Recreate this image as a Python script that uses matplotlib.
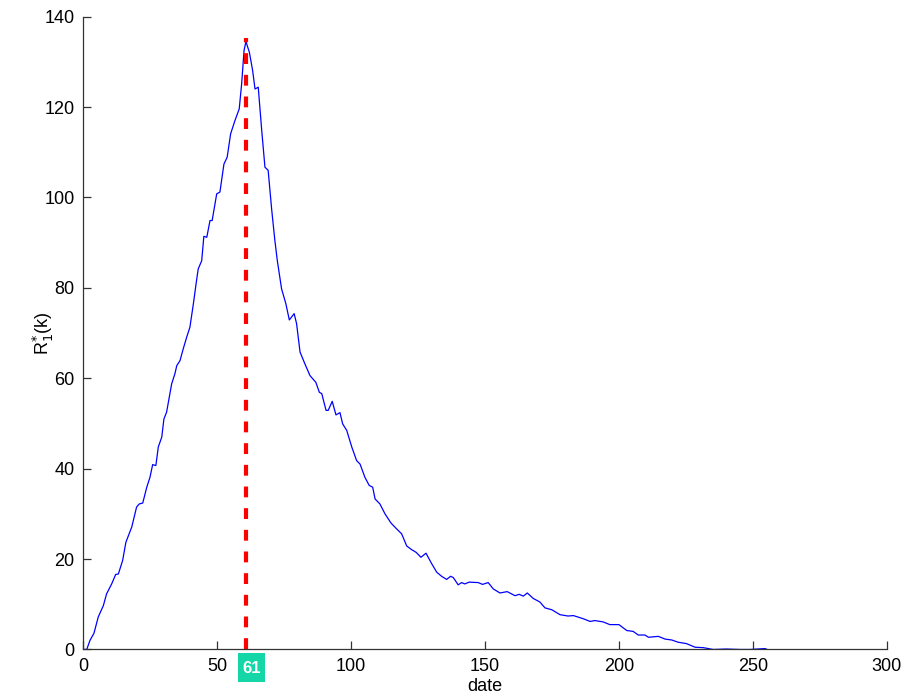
import matplotlib
matplotlib.use("Agg")
import matplotlib.pyplot as plt
from matplotlib.patches import Rectangle
from matplotlib.transforms import blended_transform_factory

plt.rcParams['font.family'] = ['Liberation Sans', 'DejaVu Sans']

# Daily series R1*(k)
days = [0, 1.4, 2.6, 4.1, 5.7, 7.6, 8.8, 10.7, 12.2, 13.2, 14.8, 16, 18.2, 20, 21,
        22.3, 23.8, 25, 26, 27.2, 28.1, 29.4, 30.2, 31.2, 33.1, 34.3, 35, 36.2, 37.4,
        38.7, 39.9, 41.2, 42.2, 43, 44.3, 45.1, 46.2, 47.4, 48.2, 49.9, 51.1, 52.6,
        53.8, 55.1, 56.7, 58.3, 59.2, 60.1, 60.8, 62.1, 63.3, 64.2, 65.4, 66.7, 67.9,
        69.1, 70.4, 71.6, 72.5, 74.1, 75.7, 77, 78.8, 79.7, 81, 82.8, 84.7, 86.9,
        88.2, 89.1, 90.7, 91.5, 93, 94.4, 95.9, 96.9, 98.4, 100.3, 102.1, 103.4,
        105.2, 106.8, 108.1, 109, 110.8, 112.7, 114.9, 117, 118.9, 120.8, 122.6,
        124.3, 126.1, 128, 130.1, 132, 133.8, 135.7, 137.2, 138.2, 140, 141.3, 142.5,
        144.1, 147.5, 149.1, 151.2, 153.1, 155.6, 158.3, 161.2, 162.8, 164.3, 165.8,
        168, 170.5, 172.4, 174.9, 178, 181, 183, 186.7, 189.2, 191, 194.1, 196.6,
        200, 202.9, 205.3, 207.2, 209.7, 211, 214.7, 217.2, 219.7, 222.1, 225.2,
        228.4, 231.5, 235.2, 240.1, 245.1, 248.9, 254.5, 255.3]
values = [0, 0, 2, 3.6, 7.2, 9.7, 12.3, 14.5, 16.6, 16.7, 19.7, 23.7, 27.1, 31.5, 32.2,
          32.4, 35.9, 38.1, 40.9, 40.7, 44.8, 47, 51, 52.5, 58.8, 61, 62.8, 63.9, 66.5,
          69.1, 71.3, 76.5, 80.9, 84.2, 86, 91.4, 91.2, 94.9, 94.9, 100.8, 101.2, 107.4,
          108.9, 114.1, 117, 119.6, 125.1, 132.5, 134.5, 132.1, 128.1, 124, 124.4, 114.8,
          106.7, 106, 97.4, 90.5, 86.1, 79.8, 76.5, 72.9, 74.3, 72.1, 65.8, 63.2, 60.6,
          59.1, 56.9, 56.6, 52.9, 52.9, 54.9, 51.9, 52.4, 49.9, 48.5, 44.8, 41.8, 41,
          38.1, 36.3, 35.9, 33.3, 32.2, 30, 28, 26.7, 25.6, 22.9, 22.1,
          21.5, 20.4, 21.3, 19, 17.1, 16.2, 15.5, 16.2, 15.9, 14.3, 14.8, 14.5,
          14.9, 14.8, 14.4, 14.8, 13.4, 12.5, 12.8, 11.9, 12.2, 11.8, 12.5,
          11.3, 10.5, 9.2, 8.8, 7.7, 7.4, 7.5, 6.8, 6.2, 6.4, 6.1, 5.5,
          5.5, 4.2, 4, 3.2, 3.2, 2.7, 2.9, 2.3, 2.1, 1.6, 1.3,
          0.5, 0.4, 0, 0.1, 0, 0, 0.2, 0]

peak_day = 61
peak_top = 135.2

x_ticks = [0, 50, 100, 150, 200, 250, 300]
y_ticks = [0, 20, 40, 60, 80, 100, 120, 140]

fig = plt.figure(figsize=(9.03, 6.95), dpi=100)
ax = fig.add_axes([0.0919, 0.0655, 0.8903, 0.9105])

ax.plot(days, values, color='#0000ff', lw=0.9)
ax.plot([peak_day, peak_day], [0, peak_top], color='#ff0000', lw=3.0,
        dashes=(2.6, 2.6), solid_capstyle='butt', dash_capstyle='butt')

ax.set_xlim(0, 300)
ax.set_ylim(0, 140)
ax.set_xticks(x_ticks)
ax.set_yticks(y_ticks)

for side in ('top', 'right'):
    ax.spines[side].set_visible(False)
for side in ('left', 'bottom'):
    ax.spines[side].set_color('#333333')
    ax.spines[side].set_linewidth(0.9)
ax.tick_params(direction='in', length=6, width=0.9, color='#333333',
               labelsize=13)
ax.tick_params(axis='x', pad=6)
ax.tick_params(axis='y', pad=6)

ax.set_xlabel('date', fontsize=13, labelpad=2.5)
ax.set_ylabel(r'R$_1^{*}$(k)', fontsize=13)
ax.yaxis.set_label_coords(-0.033, 0.5)

# peak-day marker box just under the x axis
trans = blended_transform_factory(ax.transData, ax.transAxes)
box_w, box_h = 9.85, 0.046
box_x0 = peak_day - 3.05
box_top = -0.005
ax.add_patch(Rectangle((box_x0, box_top - box_h), box_w, box_h, transform=trans,
                       facecolor='#14d6a6', edgecolor='none', clip_on=False))
ax.text(box_x0 + box_w / 2, box_top - box_h / 2, str(peak_day), transform=trans,
        ha='center', va='center_baseline', fontsize=12, fontweight='bold',
        color='white', clip_on=False)

fig.savefig('out.png', dpi=100)
